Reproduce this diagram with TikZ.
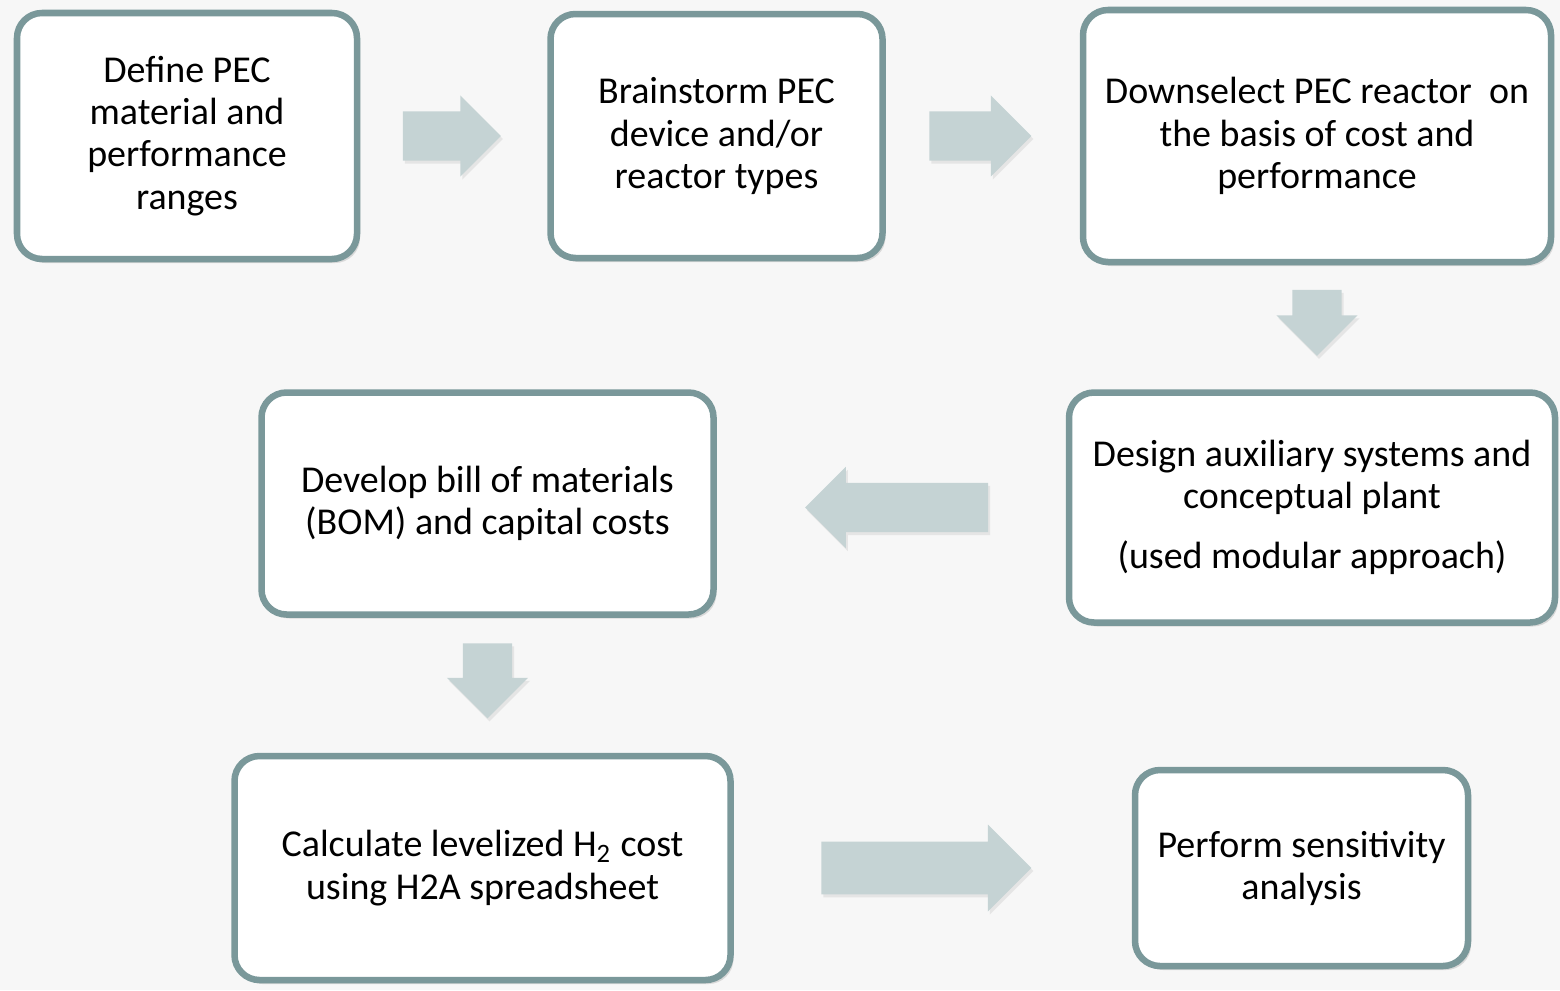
\documentclass[tikz,border=0pt]{standalone}
\usepackage{fontspec}
\setmainfont{Carlito}
\usetikzlibrary{shapes,arrows,positioning,calc,shadows}

\definecolor{boxline}{RGB}{122,152,154}
\definecolor{flowfill}{RGB}{197,211,212}
\definecolor{paper}{RGB}{247,247,247}

\begin{document}
\begin{tikzpicture}[
    node distance=1.24cm and 1.87cm,
    every node/.style={font=\fontsize{10.8}{12}\selectfont},
    stage/.style={rectangle, rounded corners=0.25cm, draw=boxline, line width=0.065cm, fill=white, align=center, inner sep=2pt, drop shadow={opacity=0.25, shadow xshift=0.03cm, shadow yshift=-0.04cm}},
    flow/.style={single arrow, draw=none, fill=flowfill, inner xsep=0pt, inner ysep=0.24cm, single arrow head extend=0.16cm, single arrow tip angle=90, minimum width=0.8cm, anchor=tail, drop shadow={opacity=0.15, shadow xshift=0.02cm, shadow yshift=-0.03cm}}
]
    % Background
    \fill[paper] (0,0) rectangle (15.6,-9.9);
    \useasboundingbox (0,0) rectangle (15.6,-9.9);

    % First row
    \node[stage, minimum width=3.40cm, minimum height=2.46cm] (define) at (1.87,-1.36) {Define PEC\\material and\\performance\\ranges};
    \node[stage, minimum width=3.32cm, minimum height=2.44cm, right=1.87cm of define] (brainstorm) {Brainstorm PEC\\device and/or\\reactor types};
    \node[stage, minimum width=4.68cm, minimum height=2.52cm, right=1.94cm of brainstorm] (downselect) {Downselect PEC reactor\ \ on\\the basis of cost and\\performance};

    % Second row
    \node[stage, minimum width=4.86cm, minimum height=2.30cm, below=1.24cm of downselect, xshift=-0.05cm] (design) {Design auxiliary systems and\\conceptual plant\\[0.18cm](used modular approach)};
    \node[stage, minimum width=4.52cm, minimum height=2.22cm, left=3.49cm of design, yshift=0.04cm] (develop) {Develop bill of materials\\(BOM) and capital costs};

    % Third row
    \node[stage, minimum width=4.96cm, minimum height=2.24cm, below=1.35cm of develop, xshift=-0.05cm] (calculate) {Calculate levelized H\textsubscript{2} cost\\using H2A spreadsheet};
    \node[stage, minimum width=3.33cm, minimum height=1.96cm, right=3.98cm of calculate] (perform) {Perform sensitivity\\analysis};

    % Block arrows
    \node[flow, minimum height=0.98cm] (a1) at ($(define.east)+(0.42,0)$) {};
    \node[flow, minimum height=1.02cm] (a2) at ($(brainstorm.east)+(0.43,0)$) {};
    \node[flow, minimum height=0.66cm, rotate=-90] (a3) at ($(downselect.south)+(0,-0.24)$) {};
    \node[flow, minimum height=1.83cm, rotate=180] (a4) at ($(design.west)+(-0.77,0)$) {};
    \node[flow, minimum height=0.75cm, rotate=-90] (a5) at ($(develop.south)+(0,-0.25)$) {};
    \node[flow, minimum height=2.10cm, minimum width=0.87cm] (a6) at ($(calculate.east)+(0.87,0)$) {};
\end{tikzpicture}
\end{document}
